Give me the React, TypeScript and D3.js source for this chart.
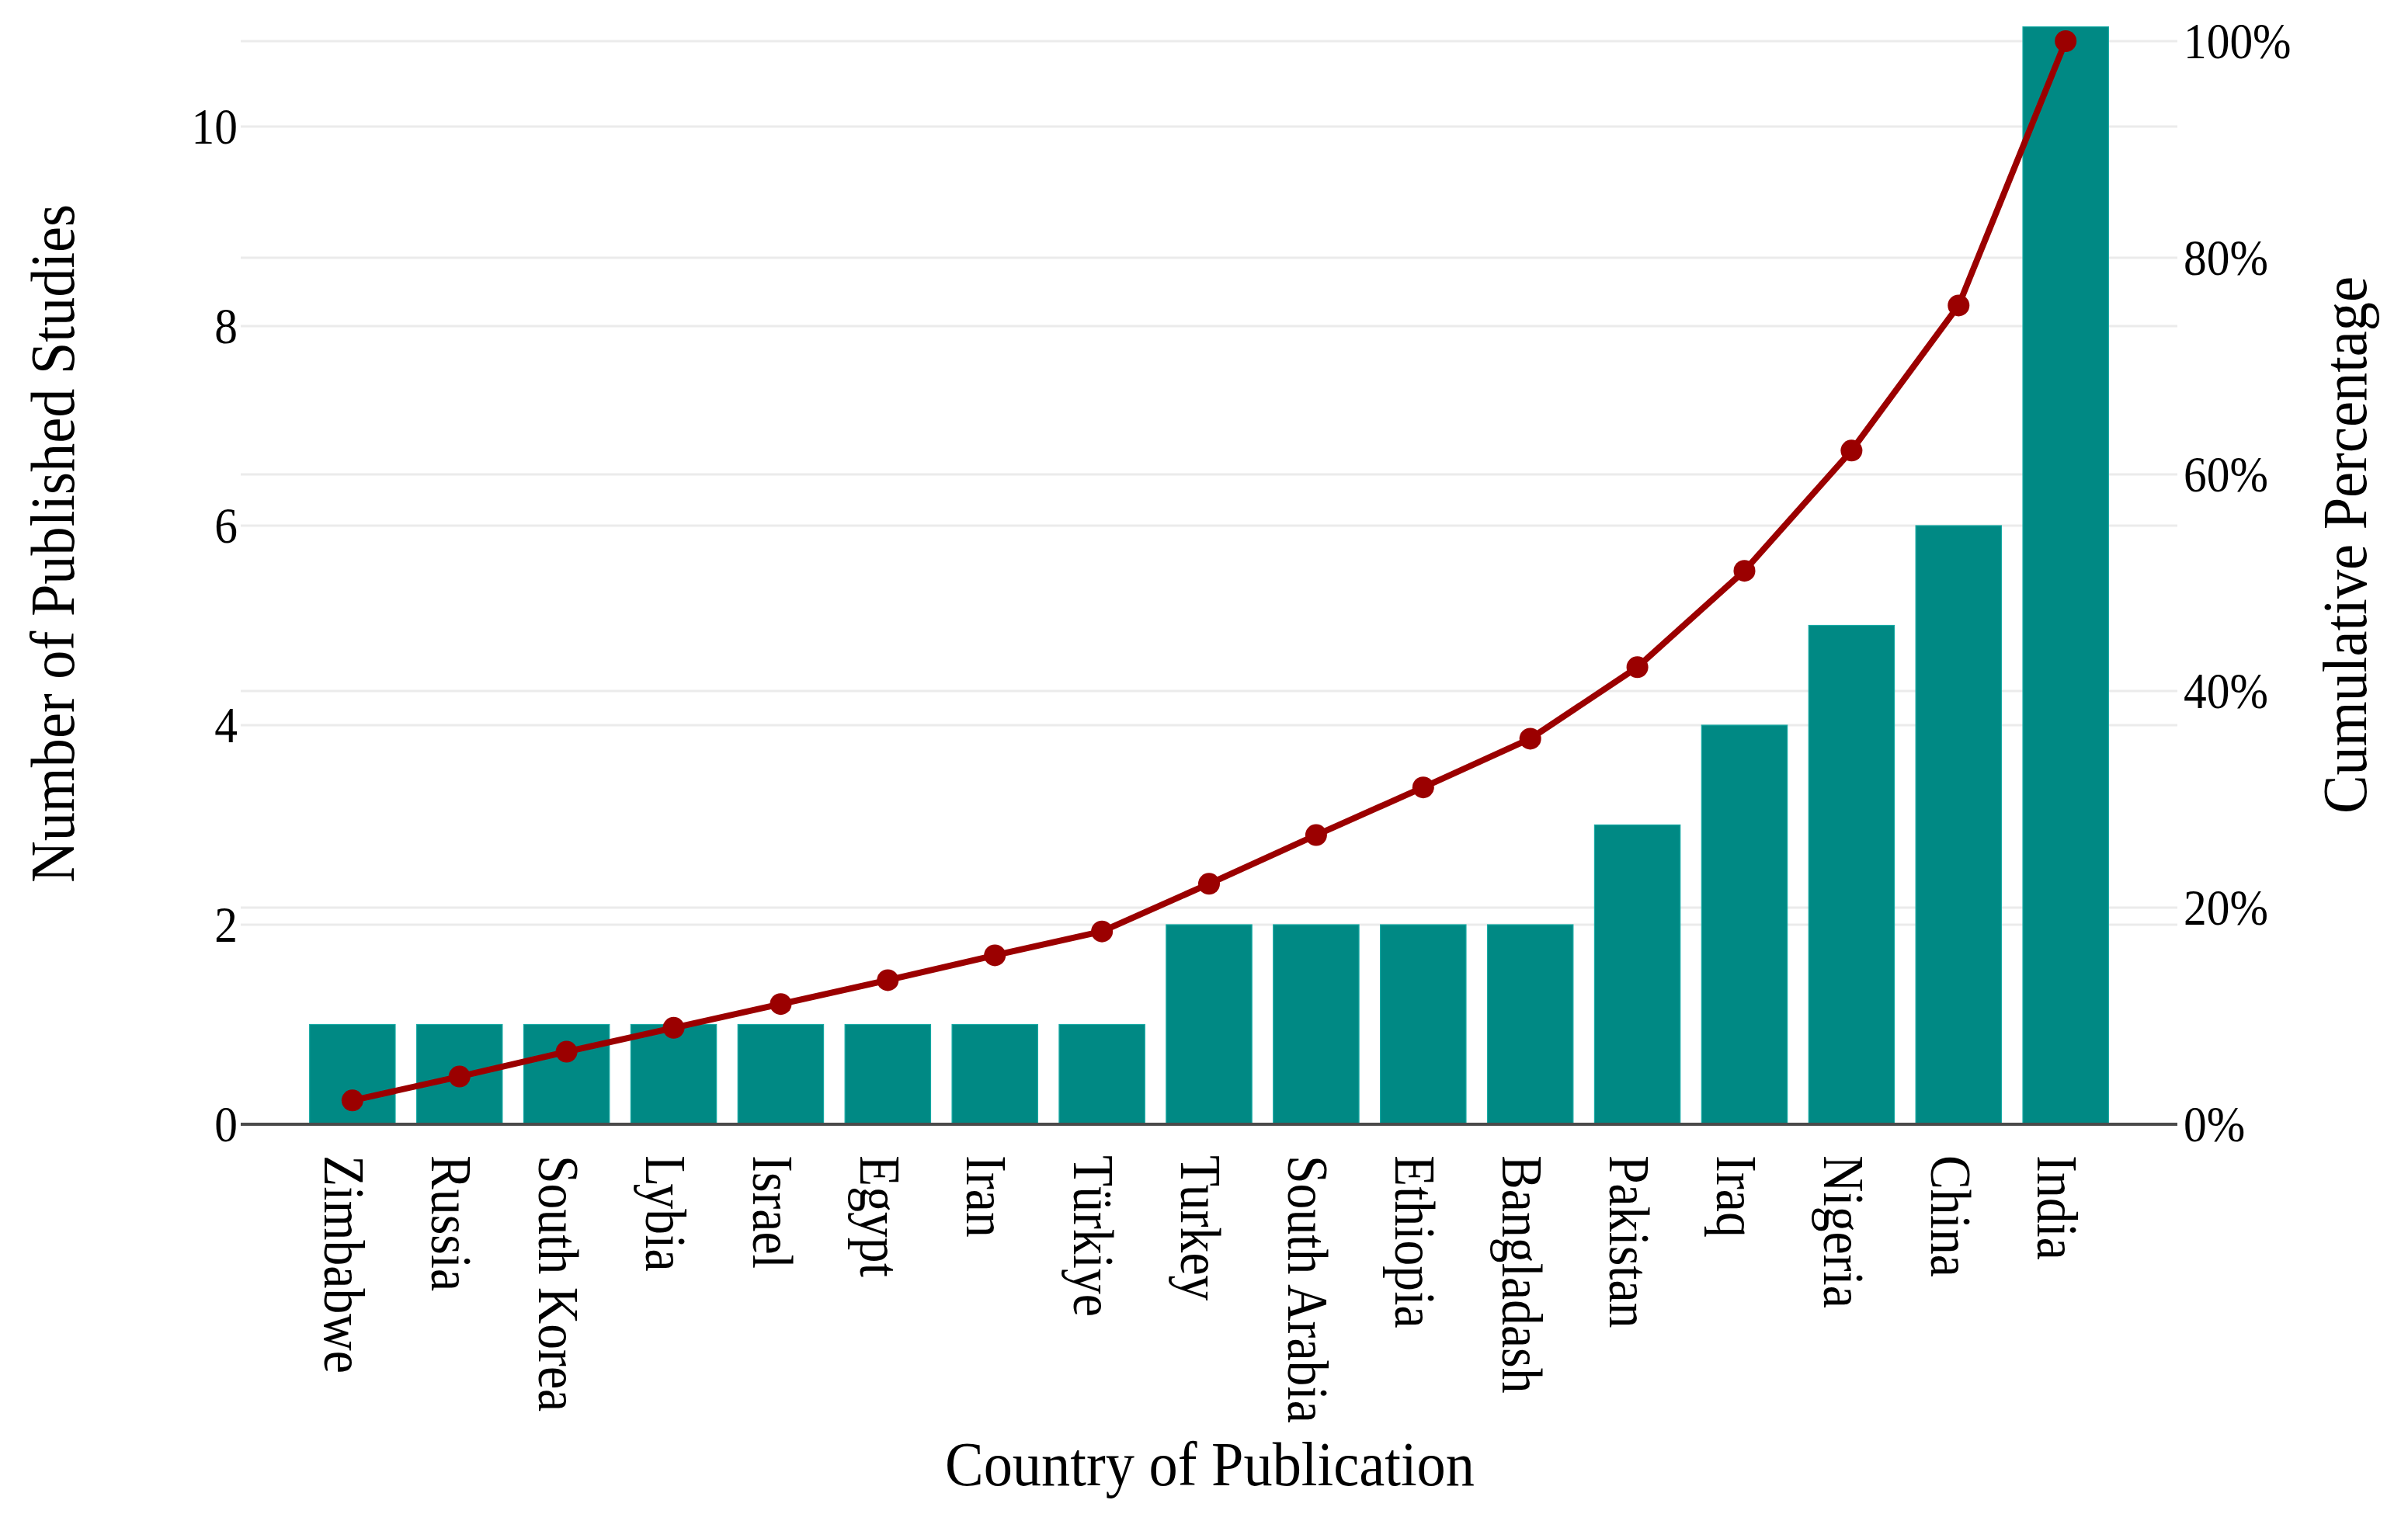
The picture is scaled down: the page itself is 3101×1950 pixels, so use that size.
import * as d3 from 'd3';
import React from 'react';

const countries = [
    'Zimbabwe', 'Russia', 'South Korea', 'Lybia', 'Israel', 'Egypt', 'Iran', 'Türkiye',
    'Turkey', 'South Arabia', 'Ethiopia', 'Bangladash', 'Pakistan', 'Iraq', 'Nigeria', 'China', 'India',
];
const studies = [1, 1, 1, 1, 1, 1, 1, 1, 2, 2, 2, 2, 3, 4, 5, 6, 11];
const cumulativePct = [2.2, 4.4, 6.7, 8.9, 11.1, 13.3, 15.6, 17.8, 22.2, 26.7, 31.1, 35.6, 42.2, 51.1, 62.2, 75.6, 100];
const leftTicks = [0, 2, 4, 6, 8, 10];
const rightTicks = [0, 20, 40, 60, 80, 100];

const W = 3101;
const H = 1950;
const FONT = "'Liberation Serif', 'Times New Roman', serif";

const App: React.FC = () => {
    // panel edges
    const l = 310;
    const r = 2804;
    const t = 34.5;
    const b = 1448;

    const x = d3.scaleBand<string>()
        .domain(countries)
        .range([l, r])
        .paddingInner(0.2)
        .paddingOuter(0.643);

    const yLeft = d3.scaleLinear().domain([0, 11]).range([b, t]);
    const yRight = d3.scaleLinear().domain([0, 100]).range([b, 53]);

    const cx = (c: string) => (x(c) ?? 0) + x.bandwidth() / 2;

    const line = d3.line<number>()
        .x((_, i) => cx(countries[i]))
        .y(d => yRight(d));

    return (
        <svg width={W} height={H} style={{ position: 'absolute', left: 0, top: 0, background: '#fff' }}
            fontFamily={FONT}>
            <rect width={W} height={H} fill="#fff" />

            {/* gridlines from both axes */}
            {rightTicks.map(v => (
                <line key={'gr' + v} x1={l} x2={r} y1={yRight(v)} y2={yRight(v)} stroke="#ebebeb" strokeWidth={3} />
            ))}
            {leftTicks.map(v => (
                <line key={'gl' + v} x1={l} x2={r} y1={yLeft(v)} y2={yLeft(v)} stroke="#ebebeb" strokeWidth={3} />
            ))}

            {countries.map((c, i) => (
                <rect key={c} x={x(c)} y={yLeft(studies[i])} width={x.bandwidth()}
                    height={b - yLeft(studies[i])} fill="#008984" stroke="#16a9a3" strokeWidth={1.2} />
            ))}

            <line x1={l} x2={r} y1={b} y2={b} stroke="#4a4a4a" strokeWidth={4} />

            <path d={line(cumulativePct) ?? ''} fill="none" stroke="#9b0000" strokeWidth={8} strokeLinejoin="round" />
            {cumulativePct.map((v, i) => (
                <circle key={'p' + i} cx={cx(countries[i])} cy={yRight(v)} r={14} fill="#9b0000" />
            ))}

            {leftTicks.map(v => (
                <text key={'tl' + v} transform={`translate(306,${yLeft(v)}) scale(0.9,1)`}
                    textAnchor="end" dy="0.34em" fontSize={66}>{v}</text>
            ))}
            {rightTicks.map(v => (
                <text key={'tr' + v} transform={`translate(2812,${yRight(v)}) scale(0.9,1)`}
                    textAnchor="start" dy="0.34em" fontSize={66}>{v}%</text>
            ))}

            {countries.map(c => (
                <text key={'xl' + c} transform={`translate(${cx(c)},1488) rotate(90) scale(0.9,1)`}
                    textAnchor="start" dy="0.49em" fontSize={73}>{c}</text>
            ))}

            <text transform={`translate(1558,1913) scale(0.93,1)`} textAnchor="middle" fontSize={80}>
                Country of Publication
            </text>
            <text transform={`translate(95,700) rotate(-90) scale(0.93,1)`} textAnchor="middle" fontSize={80}>
                Number of Published Studies
            </text>
            <text transform={`translate(3047,702) rotate(-90) scale(0.93,1)`} textAnchor="middle" fontSize={80}>
                Cumulative Percentage
            </text>
        </svg>
    );
};

export default App;
